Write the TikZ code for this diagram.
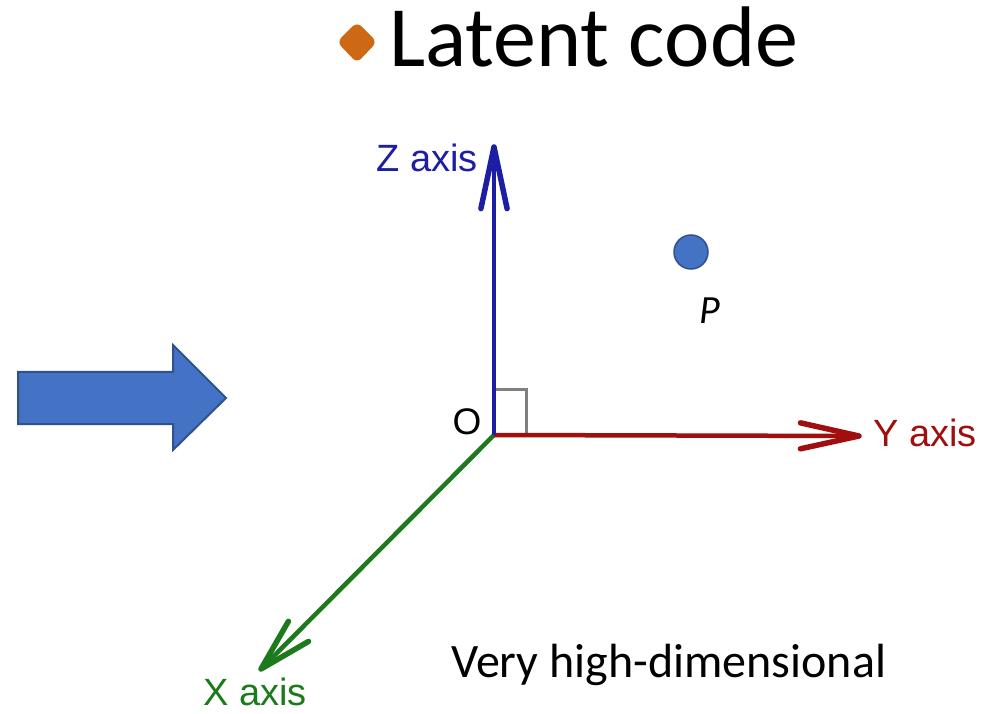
\documentclass[tikz,border=0pt]{standalone}
\usepackage{fontspec}
\setmainfont{Carlito}
\newfontfamily\arialf{Liberation Sans}
\usetikzlibrary{calc}
\definecolor{zblue}{RGB}{30,30,165}
\definecolor{yred}{RGB}{160,14,14}
\definecolor{xgreen}{RGB}{28,122,28}
\definecolor{pblue}{RGB}{68,114,196}
\definecolor{pborder}{RGB}{47,82,143}
\definecolor{borange}{RGB}{205,105,20}
\begin{document}
\begin{tikzpicture}[x=1pt,y=-1pt,
 axis/.style={line width=4.5pt},
 barb/.style={line width=5.5pt, line cap=round, line join=round},
 axlabel/.style={font=\arialf\fontsize{38}{40}\selectfont, inner sep=0pt},
]
\useasboundingbox (0,0) rectangle (989,714);
% title
\fill[borange, rounded corners=6pt] (357,22) -- (377,42) -- (357,63) -- (337,42) -- cycle;
\node[anchor=base west, inner sep=0pt, font=\fontsize{86}{92}\selectfont] (title) at (389,67) {Latent code};
% block arrow
\draw[fill=pblue, draw=pborder, line width=2pt, line join=miter] (18,372) -- (173,372) -- (173,345) -- (226,398) -- (173,450) -- (173,424) -- (18,424) -- cycle;
% axes
\coordinate (O) at (494,435);
\coordinate (Zt) at (494,147);
\coordinate (Yt) at (859,436);
\coordinate (Xt) at (261,669);
\draw[gray, line width=3pt] (496,389) -| (526,435);
\draw[axis,xgreen] (O) -- (Xt);
\draw[barb,xgreen] ($(Xt)!55pt!15:(O)$) -- (Xt) -- ($(Xt)!55pt!-15:(O)$);
\draw[axis,yred] (O) -- (Yt);
\draw[barb,yred] ($(Yt)!60pt!12.5:(O)$) -- (Yt) -- ($(Yt)!60pt!-12.5:(O)$);
\draw[axis,zblue] (O) -- (Zt);
\draw[barb,zblue] ($(Zt)!63pt!12:(O)$) -- (Zt) -- ($(Zt)!63pt!-12:(O)$);
% labels
\node[axlabel, text=zblue] (zlab) at (427,158) {Z axis};
\node[axlabel, text=yred] (ylab) at (925,433) {Y axis};
\node[axlabel, text=xgreen] (xlab) at (255,692) {X axis};
\node[axlabel, font=\arialf\fontsize{37}{38}\selectfont] (olab) at (467,422) {O};
% point P
\node[circle, fill=pblue, draw=pborder, line width=1.5pt, minimum size=34pt, inner sep=0pt] (P) at (691,252) {};
\node[inner sep=0pt, font=\itshape\fontsize{40}{42}\selectfont] (plab) at (710,311) {P};
% caption
\node[anchor=base west, inner sep=0pt, font=\fontsize{48}{52}\selectfont] (cap) at (451,677) {Very high-dimensional};
\end{tikzpicture}
\end{document}
